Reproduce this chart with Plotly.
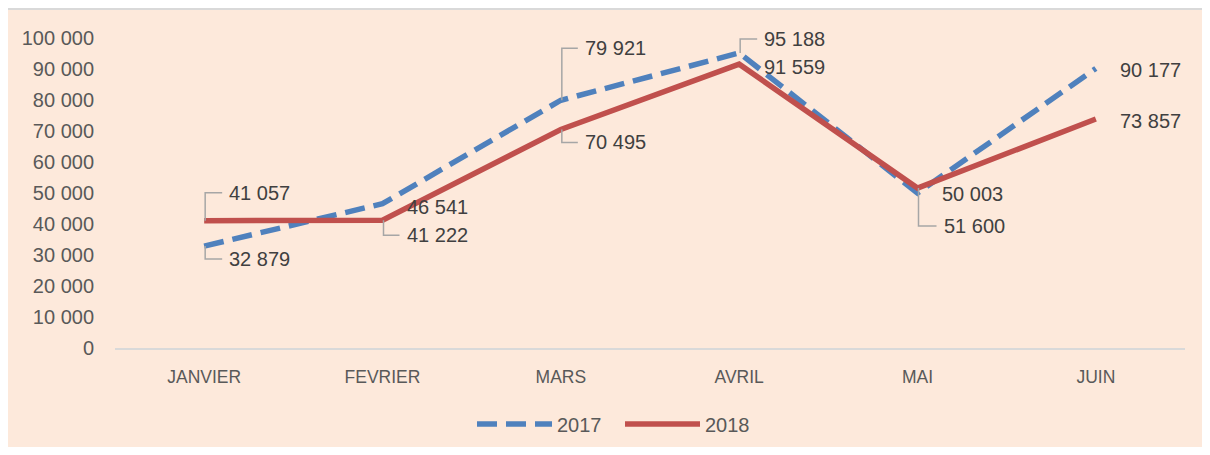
import plotly.graph_objects as go

months = ["JANVIER", "FEVRIER", "MARS", "AVRIL", "MAI", "JUIN"]
v2017 = [32879, 46541, 79921, 95188, 50003, 90177]
v2018 = [41057, 41222, 70495, 91559, 51600, 73857]
y_ticks = list(range(0, 100001, 10000))

BLUE = "#4F81BD"
RED = "#C0504D"
BG = "#FDE9DB"
TXT = "#595959"
LBL = "#404040"
FONT = "Liberation Sans Narrow, Arial Narrow, Liberation Sans, Arial, sans-serif"

# page body has an 8px margin, so the figure starts 8px right/down
W, H = 1210, 439
ML, MR, MT, MB = 107, 33, 30, 99
PW, PH = W - ML - MR, H - MT - MB

def fmt(v):
    return f"{v:,}".replace(",", " ")

fig = go.Figure()
fig.add_trace(go.Scatter(x=months, y=v2017, name="2017", mode="lines",
                         line=dict(color=BLUE, width=5.5, dash="20px,9px")))
fig.add_trace(go.Scatter(x=months, y=v2018, name="2018", mode="lines",
                         line=dict(color=RED, width=5.5)))

# label placement: (dx to left edge, dy of centre (down +), leader)
placements = {
    ("2017", 0): (23, 13, "down"),
    ("2018", 0): (23, -28, "up"),
    ("2017", 1): (22, 3, None),
    ("2018", 1): (22, 15, "down"),
    ("2017", 2): (22, -52, "up"),
    ("2018", 2): (22, 13, "down"),
    ("2017", 3): (23, -14, "up"),
    ("2018", 3): (23, 3, None),
    ("2017", 4): (22, 1, None),
    ("2018", 4): (24, 38, "down"),
    ("2017", 5): (22, 2, None),
    ("2018", 5): (22, 2, None),
}

annotations = []
shapes = []
for name, vals in (("2017", v2017), ("2018", v2018)):
    for i, v in enumerate(vals):
        dx, dy, leader = placements[(name, i)]
        annotations.append(dict(
            x=months[i], y=v, xref="x", yref="y", text=fmt(v), showarrow=False,
            xanchor="left", yanchor="middle", xshift=dx, yshift=-dy,
            font=dict(family=FONT, size=20, color=LBL)))
        if leader:
            path = f"M 1,0 L 1,{-dy} L {dx-5},{-dy}"
            shapes.append(dict(
                type="path", xref="x", yref="y", xsizemode="pixel", ysizemode="pixel",
                xanchor=months[i], yanchor=v, path=path,
                line=dict(color="#A6A6A6", width=1.5), layer="above"))

# chart-area background with top border
shapes.insert(0, dict(
    type="rect", xref="paper", yref="paper", layer="below",
    x0=(-3 - ML) / PW, x1=(W + 5 - ML) / PW,
    y0=(MT + PH - (H + 20)) / PH, y1=(MT + PH - 1) / PH,
    fillcolor=BG, line=dict(color="#D9D9D9", width=2)))

fig.update_layout(
    width=W, height=H,
    margin=dict(l=ML, r=MR, t=MT, b=MB, pad=0, autoexpand=False),
    paper_bgcolor=BG, plot_bgcolor="rgba(0,0,0,0)",
    separators=", ",
    font=dict(family=FONT, size=20, color=TXT),
    showlegend=True,
    legend=dict(orientation="h", xref="container", yref="container",
                x=(620 - 8) / W, xanchor="center", y=1 - 416 / H,
                yanchor="middle", font=dict(family=FONT, size=20, color=TXT),
                bgcolor="rgba(0,0,0,0)", itemwidth=75, entrywidth=58,
                entrywidthmode="pixels", traceorder="normal"),
    xaxis=dict(type="category", range=[-0.5, 5.5], showgrid=False, zeroline=False,
               showline=True, linecolor="#D9D9D9", linewidth=2, ticks="",
               tickfont=dict(family=FONT, size=17.5, color=TXT), ticklabelstandoff=12),
    yaxis=dict(range=[0, 100000], tickvals=y_ticks, tickformat=",d", showgrid=False,
               zeroline=False, showline=False, ticks="",
               tickfont=dict(family=FONT, size=20, color=TXT), ticklabelstandoff=20),
    annotations=annotations,
    shapes=shapes,
)

fig.write_html("out.html")
